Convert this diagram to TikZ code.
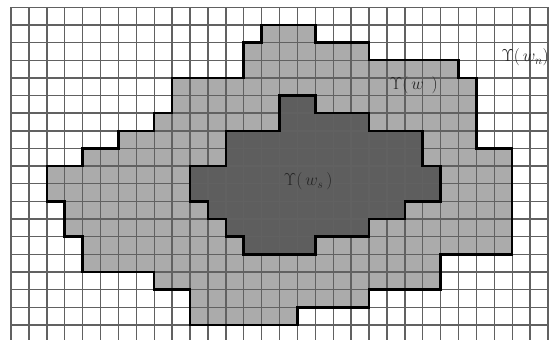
\documentclass[tikz,border=0pt]{standalone}
\begin{document}
\begin{tikzpicture}[
  gridline/.style={draw=black!62, line width=1.4pt},
  outline/.style={draw=black, line width=2.5pt, line join=miter},
  lightregion/.style={fill=black!33},
  darkregion/.style={fill=black!63},
  lbl/.style={inner sep=0pt, text=black!85, font=\fontsize{17}{20}\selectfont}
]
\useasboundingbox (0,0) rectangle (552pt,340pt);
\fill[white] (0,0) rectangle (552pt,340pt);
\begin{scope}[shift={(11pt,332.7pt)}, x=17.9pt, y=-17.65pt]
  \path[lightregion] (14,1)--(17,1)--(17,2)--(20,2)--(20,3)--(25,3)--(25,4)--(26,4)--(26,8)--(28,8)--(28,14)--(24,14)--(24,16)--(20,16)--(20,17)--(16,17)--(16,18)--(10,18)--(10,16)--(8,16)--(8,15)--(4,15)--(4,13)--(3,13)--(3,11)--(2,11)--(2,9)--(4,9)--(4,8)--(6,8)--(6,7)--(8,7)--(8,6)--(9,6)--(9,4)--(13,4)--(13,2)--(14,2)--cycle;
  \path[darkregion] (15,5)--(17,5)--(17,6)--(20,6)--(20,7)--(23,7)--(23,9)--(24,9)--(24,11)--(22,11)--(22,12)--(20,12)--(20,13)--(17,13)--(17,14)--(13,14)--(13,13)--(12,13)--(12,12)--(11,12)--(11,11)--(10,11)--(10,9)--(12,9)--(12,7)--(15,7)--cycle;
  \foreach \i in {0,...,30} \draw[gridline] (\i,0) -- (\i,18.9);
  \foreach \j in {0,...,18} \draw[gridline] (0,\j) -- (30,\j);
  \draw[outline] (14,1)--(17,1)--(17,2)--(20,2)--(20,3)--(25,3)--(25,4)--(26,4)--(26,8)--(28,8)--(28,14)--(24,14)--(24,16)--(20,16)--(20,17)--(16,17)--(16,18)--(10,18)--(10,16)--(8,16)--(8,15)--(4,15)--(4,13)--(3,13)--(3,11)--(2,11)--(2,9)--(4,9)--(4,8)--(6,8)--(6,7)--(8,7)--(8,6)--(9,6)--(9,4)--(13,4)--(13,2)--(14,2)--cycle;
  \draw[outline] (15,5)--(17,5)--(17,6)--(20,6)--(20,7)--(23,7)--(23,9)--(24,9)--(24,11)--(22,11)--(22,12)--(20,12)--(20,13)--(17,13)--(17,14)--(13,14)--(13,13)--(12,13)--(12,12)--(11,12)--(11,11)--(10,11)--(10,9)--(12,9)--(12,7)--(15,7)--cycle;
  \node[lbl] (ls) at (16.6,9.85) {$\Upsilon(\,w_s\,)$};
  \node[lbl] (lw) at (22.5,4.4) {$\Upsilon(\,w\;\,)$};
  \node[lbl, anchor=east] (ln) at (30.05,2.85) {$\Upsilon(\,w_n)$};
\end{scope}
\end{tikzpicture}
\end{document}
